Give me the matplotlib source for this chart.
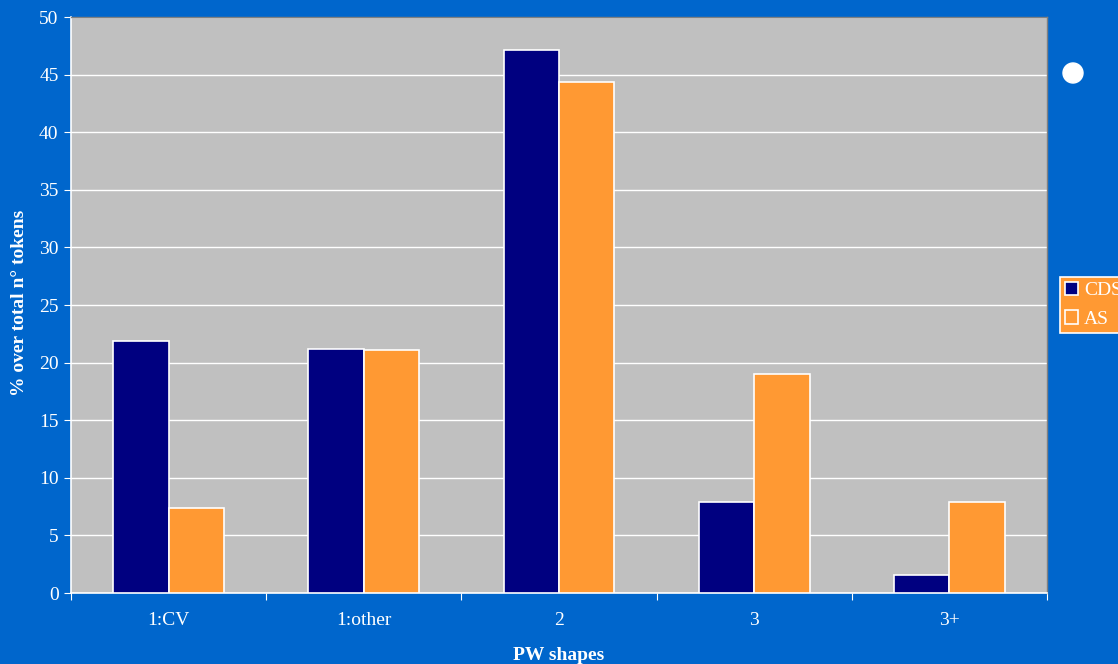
import matplotlib
matplotlib.use("Agg")
import matplotlib.pyplot as plt
import numpy as np
from matplotlib.patches import Patch, Ellipse

categories = ["1:CV", "1:other", "2", "3", "3+"]
cds = [21.9, 21.2, 47.1, 7.9, 1.6]
as_ = [7.4, 21.1, 44.4, 19.0, 7.9]
yticks = [0, 5, 10, 15, 20, 25, 30, 35, 40, 45, 50]

BLUE = "#0066CC"
GREY = "#C0C0C0"
NAVY = "#000080"
ORANGE = "#FF9933"

plt.rcParams['font.family'] = ['Liberation Serif', 'DejaVu Serif']

W, H = 1118, 664
fig = plt.figure(figsize=(W / 100, H / 100), dpi=100, facecolor=BLUE)
ax = fig.add_axes([71 / W, 1 - 593 / H, (1047 - 71) / W, (593 - 17) / H])
ax.set_facecolor(GREY)

x = np.arange(len(categories))
bw = 0.284
ax.bar(x - bw / 2, cds, bw, color=NAVY, edgecolor="white", linewidth=1.2, label="CDS", zorder=3)
ax.bar(x + bw / 2, as_, bw, color=ORANGE, edgecolor="white", linewidth=1.2, label="AS", zorder=3)

ax.set_xlim(-0.5, len(categories) - 0.5)
ax.set_ylim(0, 50)
ax.set_yticks(yticks)
ax.set_yticklabels([str(v) for v in yticks], color="white", fontsize=14)
ax.yaxis.grid(True, color="white", linewidth=1, zorder=0)
ax.set_axisbelow(True)

ax.set_xticks(np.arange(len(categories) + 1) - 0.5)
ax.set_xticklabels([])
ax.set_xticks(x, minor=True)
ax.set_xticklabels(categories, minor=True, color="white", fontsize=14)
ax.tick_params(axis="x", which="minor", length=0, pad=14)
ax.tick_params(axis="x", which="major", length=5, color="white", direction="out")
ax.tick_params(axis="y", length=5, color="white", direction="out", pad=4)

for s in ["left", "bottom"]:
    ax.spines[s].set_color("white")
    ax.spines[s].set_linewidth(1.2)
for s in ["top", "right"]:
    ax.spines[s].set_color("#808080")
    ax.spines[s].set_linewidth(1.0)

fig.text(20 / W, 1 - 303 / H, "% over total n° tokens", color="white", fontsize=14,
         fontweight="bold", rotation=90, ha="center", va="center")
fig.text(559 / W, 1 - 655 / H, "PW shapes", color="white", fontsize=14, fontweight="bold",
         ha="center", va="center")

handles = [Patch(facecolor=NAVY, edgecolor="white", linewidth=1.2, label="CDS"),
           Patch(facecolor=ORANGE, edgecolor="white", linewidth=1.2, label="AS")]
leg = fig.legend(handles=handles, loc="upper left", bbox_to_anchor=(1060 / W, 1 - 277 / H),
                 frameon=True, fontsize=14, handlelength=0.7, handleheight=0.7,
                 handletextpad=0.3, borderpad=0.25, labelspacing=0.55, borderaxespad=0,
                 fancybox=False)
leg.get_frame().set_facecolor(ORANGE)
leg.get_frame().set_edgecolor("white")
leg.get_frame().set_linewidth(1.2)
leg.get_frame().set_alpha(1)
for t in leg.get_texts():
    t.set_color("white")

# white dot at top right
fig.add_artist(Ellipse((1073 / W, 1 - 73 / H), 20 / W, 20 / H, color="white",
                       transform=fig.transFigure))

fig.savefig("out.png", dpi=100, facecolor=BLUE)
